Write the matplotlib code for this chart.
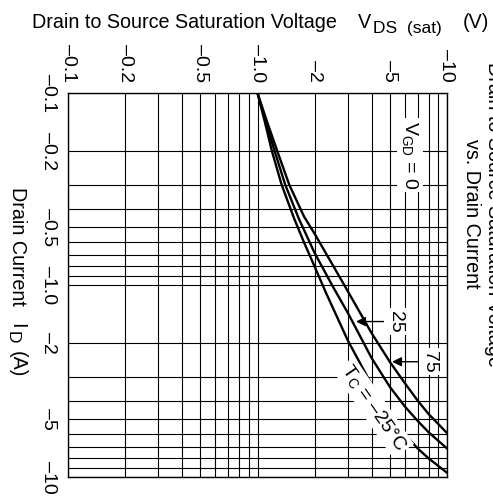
import matplotlib.pyplot as plt
from matplotlib.ticker import NullFormatter

plt.rcParams['font.family'] = ['Liberation Sans', 'DejaVu Sans']
plt.rcParams['mathtext.fontset'] = 'custom'
plt.rcParams['mathtext.rm'] = 'Liberation Sans'
plt.rcParams['mathtext.it'] = 'Liberation Sans:italic'

# magnitudes of V_DS(sat) (V) and I_D (A); the minus sign is only in the labels
vds_m25 = [1.0, 1.1, 1.19, 1.34, 1.56, 1.76, 2.0, 2.3, 3.0, 4.0, 5.0, 6.0, 7.0, 8.0, 10.0]
id_m25 = [0.1, 0.145, 0.2, 0.3, 0.45, 0.6, 0.8, 1.1, 1.95, 3.3, 4.7, 6.0, 7.1, 8.0, 9.5]

vds_25 = [1.0, 1.11, 1.23, 1.4, 1.65, 2.0, 2.5, 3.0, 4.0, 5.0, 6.0, 7.0, 8.0, 10.0]
id_25 = [0.1, 0.143, 0.2, 0.3, 0.45, 0.68, 1.02, 1.4, 2.4, 3.4, 4.3, 5.1, 5.85, 7.1]

vds_75 = [1.0, 1.12, 1.27, 1.47, 1.76, 2.0, 2.5, 3.0, 4.0, 5.0, 6.0, 7.0, 8.0, 10.0]
id_75 = [0.1, 0.14, 0.2, 0.3, 0.44, 0.54, 0.79, 1.08, 1.78, 2.52, 3.25, 4.0, 4.7, 5.9]

tick_vals = [0.1, 0.2, 0.5, 1.0, 2, 5, 10]
tick_labels = ['\u20130.1', '\u20130.2', '\u20130.5', '\u20131.0', '\u20132', '\u20135', '\u201310']
grid_vals = [k * 10.0 ** e for e in (-1, 0) for k in range(1, 10)] + [10.0]

fs = 14.2
fs_sub = 12.5
W, H = 493, 499

fig = plt.figure(figsize=(W / 100, H / 100), dpi=100)
ax = fig.add_axes([68 / W, 1 - 477 / H, (447 - 68) / W, (477 - 93) / H])
ax.set_xscale('log')
ax.set_yscale('log')
ax.set_xlim(0.1, 10)
ax.set_ylim(10, 0.1)

ax.set_xticks(tick_vals, tick_labels)
ax.set_yticks(tick_vals, tick_labels)
ax.set_xticks(grid_vals, minor=True)
ax.set_yticks(grid_vals, minor=True)
ax.xaxis.set_minor_formatter(NullFormatter())
ax.yaxis.set_minor_formatter(NullFormatter())
ax.xaxis.tick_top()
ax.tick_params(which='both', length=0)
ax.tick_params(axis='both', pad=8, labelrotation=270, labelsize=14)
for lab in ax.get_yticklabels():
    lab.set_va('center')

ax.grid(True, which='both', color='black', lw=0.8)
ax.set_axisbelow(True)
for s in ax.spines.values():
    s.set_linewidth(1.0)

for v, i in [(vds_m25, id_m25), (vds_25, id_25), (vds_75, id_75)]:
    ax.plot(v, i, color='black', lw=1.7, zorder=4)

box = dict(fc='white', ec='none', pad=2)
arrow = dict(arrowstyle='-|>', color='black', lw=1, shrinkA=0, shrinkB=0, mutation_scale=14)

ax.text(6.38, 0.211, r'V$_{\mathrm{GD}}$ = 0', rotation=270, ha='center', va='center',
        fontsize=14, bbox=box, zorder=5)
ax.annotate('25', xy=(3.31, 1.55), xytext=(5.32, 1.55), rotation=270, ha='center',
            va='center', fontsize=14, bbox=box, arrowprops=arrow, zorder=5)
ax.annotate('75', xy=(5.13, 2.51), xytext=(8.13, 2.51), rotation=270, ha='center',
            va='center', fontsize=14, bbox=box, arrowprops=arrow, zorder=5)
ax.text(4.1, 4.35, 'T$_{\\mathrm{C}}$ = \u201325\u00b0C', rotation=-55.5, rotation_mode='anchor',
        ha='center', va='center', fontsize=14, bbox=box, zorder=5)

# top axis title, built from pieces so the subscript keeps its size
fig.text(32 / W, 1 - 28 / H, 'Drain to Source Saturation Voltage', ha='left', va='baseline', fontsize=fs)
fig.text(358 / W, 1 - 28 / H, 'V', ha='left', va='baseline', fontsize=fs)
fig.text(373 / W, 1 - 33 / H, 'DS  (sat)', ha='left', va='baseline', fontsize=fs_sub)
fig.text(463 / W, 1 - 28 / H, '(V)', ha='left', va='baseline', fontsize=fs)

# left axis title, rotated
fig.text(17 / W, 1 - 187 / H, 'Drain Current', rotation=270, ha='center', va='top', fontsize=fs)
fig.text(17 / W, 1 - 323 / H, 'I', rotation=270, ha='center', va='top', fontsize=fs)
fig.text(12.5 / W, 1 - 331 / H, 'D', rotation=270, ha='center', va='top', fontsize=fs_sub)
fig.text(17 / W, 1 - 351 / H, '(A)', rotation=270, ha='center', va='top', fontsize=fs)

fig.text(483 / W, 1 - 214 / H, 'Drain to Source Saturation Voltage\nvs. Drain Current',
         rotation=270, ha='center', va='center', multialignment='center', fontsize=fs)

fig.savefig('out.png', dpi=100)
